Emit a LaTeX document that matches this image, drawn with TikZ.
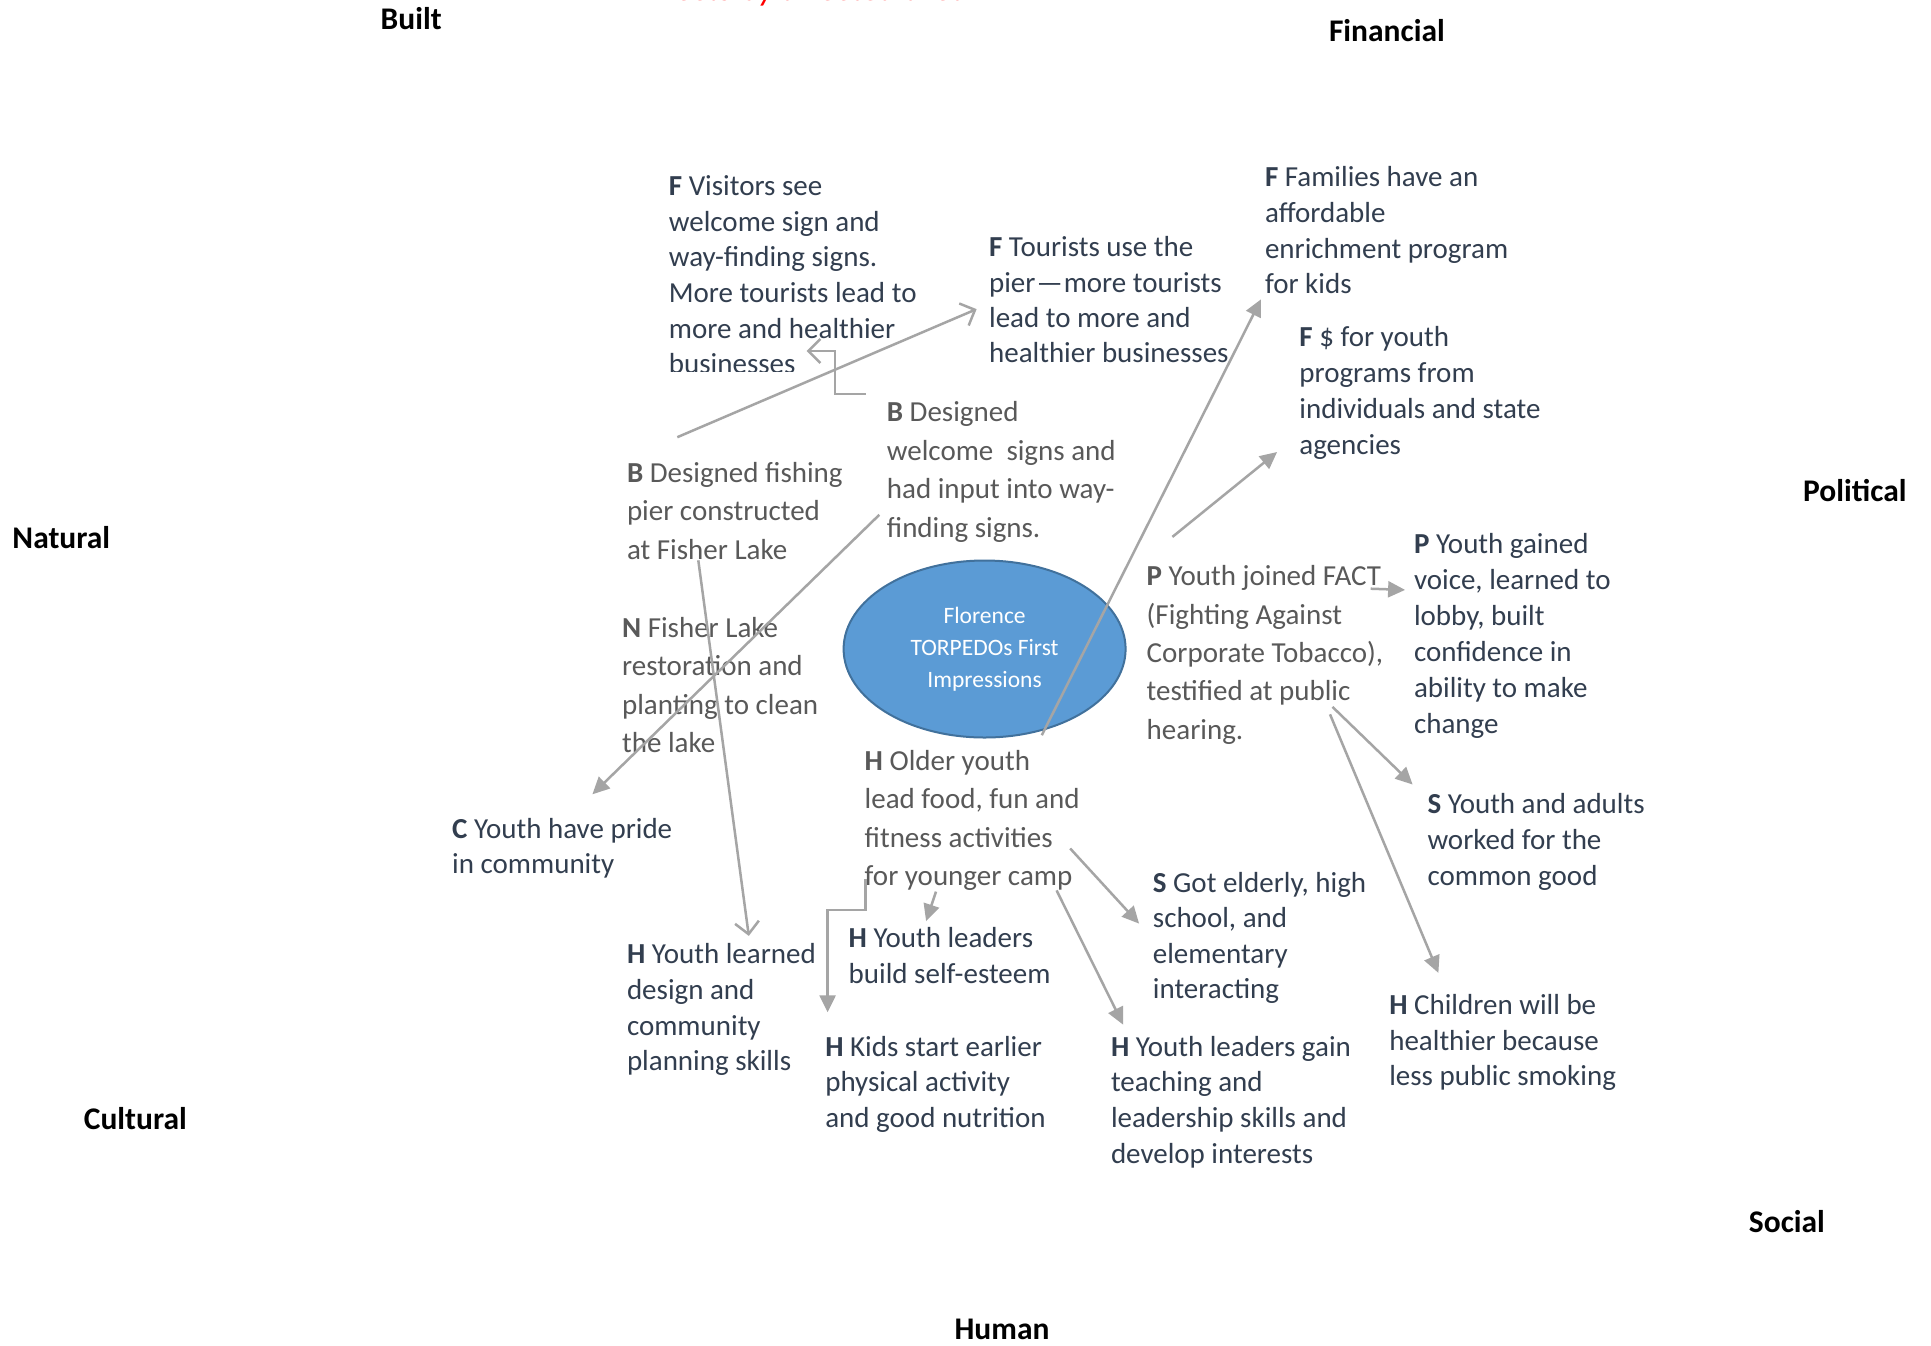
\documentclass[tikz,border=0pt]{standalone}
\usepackage{fontspec}
\setmainfont{Carlito}
\usetikzlibrary{arrows.meta,shapes.geometric}
\definecolor{navy}{HTML}{323E4F}
\definecolor{grayt}{HTML}{595959}
\definecolor{linegray}{HTML}{A5A5A5}
\definecolor{ellfill}{HTML}{5B9BD5}
\definecolor{elldraw}{HTML}{41719C}
\tikzset{
  txt/.style={anchor=base west, align=left, inner sep=0pt, text=navy, font=\fontsize{29}{35.7}\selectfont},
  gtxt/.style={anchor=base west, align=left, inner sep=0pt, text=grayt, font=\fontsize{29}{38.4}\selectfont},
  cat/.style={anchor=base west, inner sep=0pt, text=black, font=\fontsize{31.5}{38}\selectfont\bfseries},
  conn/.style={draw=linegray, line width=2.5pt},
  farrow/.style={conn, -{Triangle[length=17pt,width=16pt]}},
  oarrow/.style={conn, -{Straight Barb[length=12pt,width=24pt,line width=2.5pt]}}
}
\begin{document}
\begin{tikzpicture}[x=1pt,y=-1pt]
\useasboundingbox (0,0) rectangle (1931,1345);
\fill[white] (0,0) rectangle (1931,1345);

% clipped red heading
\begin{scope}
\clip (0,0) rectangle (1931,1345);
\node (head) [anchor=base west, inner sep=0pt, text=red, font=\fontsize{35}{40}\selectfont\itshape] at (640,0.8) {Effects by affected area};
\end{scope}

% category labels
\node (built) [cat] at (380.5,29.5) {Built};
\node (financial) [cat] at (1328.8,41.8) {Financial};
\node (political) [cat] at (1803,501) {Political};
\node (natural) [cat] at (12.3,548) {Natural};
\node (cultural) [cat] at (83.7,1129) {Cultural};
\node (social) [cat] at (1748.7,1232.6) {Social};
\node (human) [cat] at (954.4,1339) {Human};

% central ellipse
\node (center) [ellipse, fill=ellfill, draw=elldraw, line width=2pt, minimum width=282pt, minimum height=177pt, inner sep=0pt, text=white, align=center, font=\fontsize{23.5}{32}\selectfont] at (984.6,649) {Florence\\TORPEDOs First\\Impressions};

% text blocks (anchored at the baseline of their last line)
\begin{scope}[yshift=-2pt]
\begin{scope}
\clip (600,100) rectangle (1000,369);
\node (visitors) [txt] at (668.7,371.8) {\textbf{F} Visitors see\\welcome sign and\\way-finding signs.\\More tourists lead to\\more and healthier\\businesses};
\end{scope}
\node (tourists) [txt, font=\fontsize{29}{35.3}\selectfont] at (988.9,360.8) {\textbf{F} Tourists use the\\pier\kern1pt---\kern1pt more tourists\\lead to more and\\healthier businesses};
\node (families) [txt] at (1264.8,291.8) {\textbf{F} Families have an\\affordable\\enrichment program\\for kids};
\node (dollars) [txt, font=\fontsize{29}{36}\selectfont] at (1299.2,452.8) {\textbf{F} \$ for youth\\programs from\\individuals and state\\agencies};
\node (signs) [gtxt] at (886.7,535.1) {\textbf{B} Designed\\welcome~ signs and\\had input into way-\\finding signs.};
\node (pier) [gtxt] at (626.8,557.1) {\textbf{B} Designed fishing\\pier constructed\\at Fisher Lake};
\node (lake) [gtxt] at (621.9,750.7) {\textbf{N} Fisher Lake\\restoration and\\planting to clean\\the lake};
\node (fact) [gtxt] at (1146.5,737.3) {\textbf{P} Youth joined FACT\\(Fighting Against\\Corporate Tobacco),\\testified at public\\hearing.};
\node (voice) [txt, font=\fontsize{29}{36}\selectfont] at (1413.8,731.7) {\textbf{P} Youth gained\\voice, learned to\\lobby, built\\confidence in\\ability to make\\change};
\node (common) [txt] at (1427.3,883) {\textbf{S} Youth and adults\\worked for the\\common good};
\node (pride) [txt] at (452,871.9) {\textbf{C} Youth have pride\\in community};
\node (older) [gtxt] at (864.5,883.7) {\textbf{H} Older youth\\lead food, fun and\\fitness activities\\for younger camp};
\node (elderly) [txt, font=\fontsize{29}{35.4}\selectfont] at (1152.7,996.6) {\textbf{S} Got elderly, high\\school, and\\elementary\\interacting};
\node (esteem) [txt] at (848.5,981.5) {\textbf{H} Youth leaders\\build self-esteem};
\node (design) [txt] at (626.8,1068.9) {\textbf{H} Youth learned\\design and\\community\\planning skills};
\node (kids) [txt] at (825.1,1125.6) {\textbf{H} Kids start earlier\\physical activity\\and good nutrition};
\node (teaching) [txt] at (1110.8,1161.3) {\textbf{H} Youth leaders gain\\teaching and\\leadership skills and\\develop interests};
\node (children) [txt] at (1389.1,1083.7) {\textbf{H} Children will be\\healthier because\\less public smoking};
\end{scope}

% connector end points
\coordinate (a1) at (677.3,437.2);  \coordinate (a2) at (976.6,309.1);
\coordinate (b1) at (865.7,394.1);  \coordinate (b2) at (835,394.1);
\coordinate (b3) at (835,351);      \coordinate (b4) at (806.6,351);
\coordinate (c1) at (879.3,514.8);  \coordinate (c2) at (592.4,794.3);
\coordinate (d1) at (698.3,560.3);  \coordinate (d2) at (748.8,935.9);
\coordinate (e1) at (1041.8,735.2); \coordinate (e2) at (1261,299.3);
\coordinate (f1) at (1172.4,536.9); \coordinate (f2) at (1277.1,452);
\coordinate (g1) at (1370.7,588.7); \coordinate (g2) at (1405.1,589.9);
\coordinate (h1) at (1332.5,706.9); \coordinate (h2) at (1412.6,784.5);
\coordinate (i1) at (1330,714.3);   \coordinate (i2) at (1438.4,972.9);
\coordinate (j1) at (1070.2,848.5); \coordinate (j2) at (1139.1,923.6);
\coordinate (k1) at (1056.6,890.4); \coordinate (k2) at (1123.1,1024.6);
\coordinate (l1) at (936,891.6);    \coordinate (l2) at (926.1,921.2);
\coordinate (m1) at (865.7,879.3);  \coordinate (m2) at (865.7,910.1);
\coordinate (m3) at (827.6,910.1);  \coordinate (m4) at (827.6,1012.3);

% connectors
\draw[oarrow] (a1) -- (a2);
\draw[oarrow] (b1) -- (b2) -- (b3) -- (b4);
\draw[farrow] (c1) -- (c2);
\draw[oarrow] (d1) -- (d2);
\draw[farrow] (e1) -- (e2);
\draw[farrow] (f1) -- (f2);
\draw[farrow] (g1) -- (g2);
\draw[farrow] (h1) -- (h2);
\draw[farrow] (i1) -- (i2);
\draw[farrow] (j1) -- (j2);
\draw[farrow] (k1) -- (k2);
\draw[farrow] (l1) -- (l2);
\draw[farrow] (m1) -- (m2) -- (m3) -- (m4);
\end{tikzpicture}
\end{document}
